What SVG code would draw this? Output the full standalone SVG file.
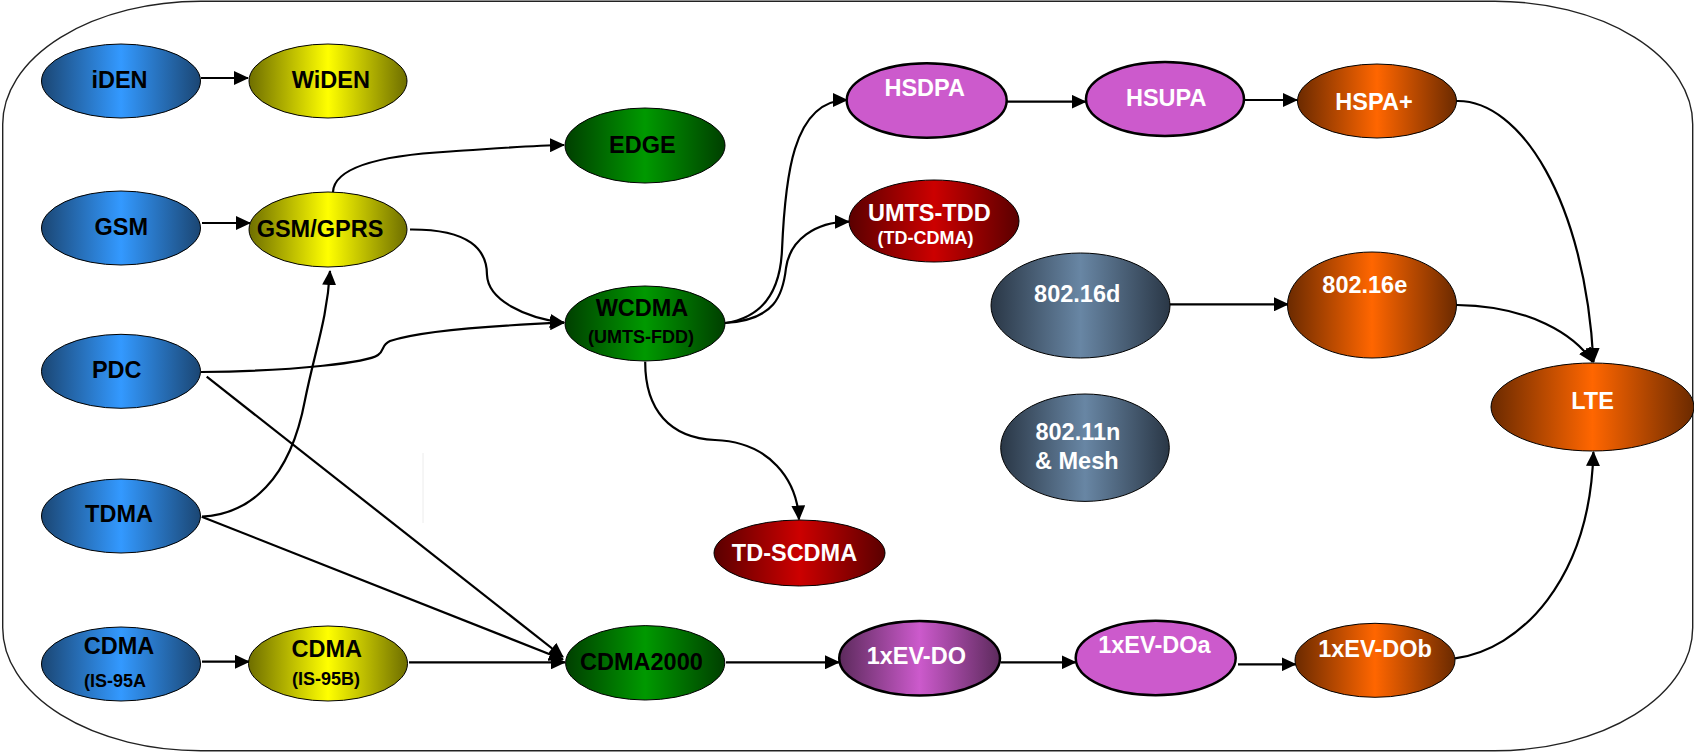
<svg xmlns="http://www.w3.org/2000/svg" width="1694" height="752" viewBox="0 0 1694 752">
<style>
.n{stroke:#000;stroke-width:1}
.nt{stroke:#000;stroke-width:2.5}
.c{fill:none;stroke:#000;stroke-width:2.2}
.ca{fill:none;stroke:#000;stroke-width:2.2;marker-end:url(#ah)}
text{font-family:"Liberation Sans",Arial,sans-serif;font-weight:bold;font-size:23.5px;text-anchor:middle}
.k{fill:#000}
.w{fill:#fff}
.s{font-size:18px}
</style>
<defs>
<marker id="ah" markerUnits="userSpaceOnUse" markerWidth="15" markerHeight="14" refX="14" refY="7" orient="auto">
<path d="M0,0 L15,7 L0,14 z" fill="#000"/>
</marker>
<linearGradient id="gB"><stop offset="0" stop-color="#1B4673"/><stop offset="0.5" stop-color="#3399FF"/><stop offset="1" stop-color="#1B4673"/></linearGradient>
<linearGradient id="gY"><stop offset="0" stop-color="#6E6E00"/><stop offset="0.5" stop-color="#FFFF00"/><stop offset="1" stop-color="#6E6E00"/></linearGradient>
<linearGradient id="gG"><stop offset="0" stop-color="#003F00"/><stop offset="0.5" stop-color="#009900"/><stop offset="1" stop-color="#003F00"/></linearGradient>
<linearGradient id="gR"><stop offset="0" stop-color="#5A0000"/><stop offset="0.5" stop-color="#CC0000"/><stop offset="1" stop-color="#5A0000"/></linearGradient>
<linearGradient id="gO"><stop offset="0" stop-color="#6B2A00"/><stop offset="0.5" stop-color="#FF6600"/><stop offset="1" stop-color="#6B2A00"/></linearGradient>
<linearGradient id="gS"><stop offset="0" stop-color="#2A3746"/><stop offset="0.5" stop-color="#6886A4"/><stop offset="1" stop-color="#2A3746"/></linearGradient>
<linearGradient id="gP"><stop offset="0" stop-color="#5C2A5C"/><stop offset="0.5" stop-color="#CC5ACC"/><stop offset="1" stop-color="#5C2A5C"/></linearGradient>
</defs>

<rect x="2.7" y="1.3" width="1690" height="749.4" rx="198" ry="123" fill="#fff" stroke="#222" stroke-width="1.4"/>
<line x1="423" y1="453" x2="423" y2="523" stroke="#ececec" stroke-width="1"/>

<g id="connectors">
<path class="ca" d="M201,78 L248,78"/>
<path class="ca" d="M202,223 L250,223"/>
<path class="ca" d="M333,192 C334,170 370,156 450,151.5 C490,149 530,145.5 564,145"/>
<path class="ca" d="M410,229.5 C470,229 487,250 487,275 C488,300 525,318 564,322.7"/>
<path class="ca" d="M201,372 C300,371 368,362 378,355 C385,350 381,345 390,341 C420,331 480,326 564,322.7"/>
<path class="ca" d="M206.7,376.7 L563,657"/>
<path class="ca" d="M201.7,516.7 L563,659.5"/>
<path class="ca" d="M202,516.7 C250,514 290,480 305,400 C315,350 327,320 330,271"/>
<path class="ca" d="M202,661.7 L249,661.7"/>
<path class="ca" d="M409,662.3 L565,662.3"/>
<path class="ca" d="M726,662.3 L839,662.3"/>
<path class="ca" d="M1000.5,662.3 L1075.6,662.3"/>
<path class="ca" d="M1238,664.3 L1295.6,664.3"/>
<path class="ca" d="M1455,658.3 C1520,650 1590,580 1593.4,452"/>
<path class="ca" d="M1457,101 C1520,100 1585,200 1593.5,362"/>
<path class="ca" d="M1457,305 C1530,306 1575,335 1592.5,362"/>
<path class="ca" d="M725,323 C760,318 780,295 782,250 C785,180 792,100 847,100"/>
<path class="ca" d="M725,323 C775,320 783,295 786,268 C790,240 815,222 849,221.7"/>
<path class="ca" d="M645.2,361.7 C645,410 670,438 715,440 C770,442 797,480 799,519.5"/>
<path class="ca" d="M1000,101.7 L1085.6,101.7"/>
<path class="ca" d="M1245,100 L1297,100"/>
<path class="ca" d="M1170,304.3 L1288,304.3"/>
</g>

<g id="iDEN"><ellipse class="n" cx="121" cy="81" rx="79.5" ry="37" fill="url(#gB)"/><text class="k" x="119.5" y="88.3">iDEN</text></g>
<g id="WiDEN"><ellipse class="n" cx="328" cy="81" rx="79" ry="37" fill="url(#gY)"/><text class="k" x="330.8" y="88.3">WiDEN</text></g>
<g id="GSM"><ellipse class="n" cx="121" cy="228" rx="79.5" ry="37" fill="url(#gB)"/><text class="k" x="121.3" y="235">GSM</text></g>
<g id="GSM-GPRS"><ellipse class="n" cx="328" cy="229.5" rx="79" ry="37.5" fill="url(#gY)"/><text class="k" x="320" y="237.3">GSM/GPRS</text></g>
<g id="EDGE"><ellipse class="n" cx="645" cy="145.5" rx="80" ry="37.5" fill="url(#gG)"/><text class="k" x="642.3" y="152.7">EDGE</text></g>
<g id="HSDPA"><ellipse class="nt" cx="926.7" cy="100.5" rx="80" ry="37.2" fill="#CC5ACC"/><text class="w" x="924.7" y="95.7">HSDPA</text></g>
<g id="HSUPA"><ellipse class="nt" cx="1165" cy="99" rx="79" ry="37" fill="#CC5ACC"/><text class="w" x="1166.2" y="106">HSUPA</text></g>
<g id="HSPAplus"><ellipse class="n" cx="1377" cy="101" rx="79.5" ry="37" fill="url(#gO)"/><text class="w" x="1374" y="110">HSPA+</text></g>
<g id="UMTS-TDD"><ellipse class="n" cx="934" cy="221" rx="85" ry="41" fill="url(#gR)"/><text class="w" x="929.3" y="220.7">UMTS-TDD</text><text class="w s" x="925.5" y="244.3">(TD-CDMA)</text></g>
<g id="WCDMA"><ellipse class="n" cx="645" cy="323.5" rx="80" ry="37.5" fill="url(#gG)"/><text class="k" x="642" y="316">WCDMA</text><text class="k s" x="641" y="342.7">(UMTS-FDD)</text></g>
<g id="n802-16d"><ellipse class="n" cx="1080.5" cy="305.5" rx="89.5" ry="52.5" fill="url(#gS)"/><text class="w" x="1077.2" y="301.7">802.16d</text></g>
<g id="n802-16e"><ellipse class="n" cx="1372" cy="305" rx="84.5" ry="53" fill="url(#gO)"/><text class="w" x="1364.8" y="292.7">802.16e</text></g>
<g id="LTE"><ellipse class="n" cx="1592.5" cy="407" rx="101.5" ry="44" fill="url(#gO)"/><text class="w" x="1592.5" y="409.3">LTE</text></g>
<g id="n802-11n"><ellipse class="n" cx="1085" cy="447.7" rx="84.3" ry="53.7" fill="url(#gS)"/><text class="w" x="1077.9" y="440">802.11n</text><text class="w" x="1076.8" y="469">&amp; Mesh</text></g>
<g id="PDC"><ellipse class="n" cx="121" cy="371.3" rx="79.5" ry="37" fill="url(#gB)"/><text class="k" x="116.7" y="378.3">PDC</text></g>
<g id="TDMA"><ellipse class="n" cx="121" cy="516" rx="79.5" ry="37" fill="url(#gB)"/><text class="k" x="119" y="522.3">TDMA</text></g>
<g id="TD-SCDMA"><ellipse class="n" cx="799.5" cy="553" rx="85.5" ry="33" fill="url(#gR)"/><text class="w" x="794.5" y="561">TD-SCDMA</text></g>
<g id="CDMA-IS95A"><ellipse class="n" cx="121" cy="664" rx="79.5" ry="37" fill="url(#gB)"/><text class="k" x="119" y="654.3">CDMA</text><text class="k s" x="115" y="686.7">(IS-95A</text></g>
<g id="CDMA-IS95B"><ellipse class="n" cx="328" cy="663.5" rx="79.5" ry="37.5" fill="url(#gY)"/><text class="k" x="326.7" y="657.3">CDMA</text><text class="k s" x="326" y="685">(IS-95B)</text></g>
<g id="CDMA2000"><ellipse class="n" cx="645.2" cy="662.8" rx="79.6" ry="37.2" fill="url(#gG)"/><text class="k" x="641.4" y="670">CDMA2000</text></g>
<g id="EV-DO"><ellipse class="nt" cx="919.6" cy="658.3" rx="80.4" ry="37.3" fill="url(#gP)"/><text class="w" x="916.3" y="664.3">1xEV-DO</text></g>
<g id="EV-DOa"><ellipse class="nt" cx="1155.7" cy="658" rx="80" ry="37.3" fill="#CC5ACC"/><text class="w" x="1154.4" y="653.3">1xEV-DOa</text></g>
<g id="EV-DOb"><ellipse class="n" cx="1375" cy="660.3" rx="80" ry="37" fill="url(#gO)"/><text class="w" x="1375" y="656.7">1xEV-DOb</text></g>
</svg>
